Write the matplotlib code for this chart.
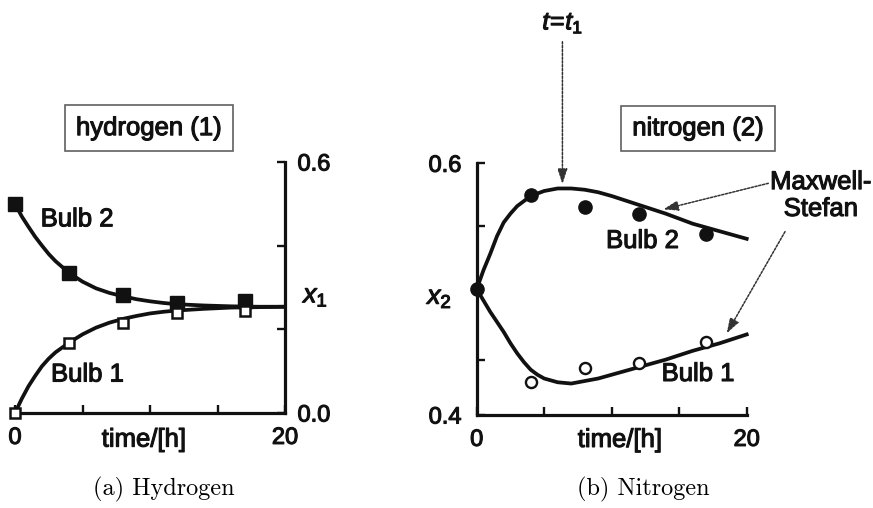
import matplotlib
matplotlib.use("Agg")
import matplotlib.pyplot as plt
import matplotlib.patheffects as pe

h_t_pts = [0, 4, 8, 12, 17]
h_bulb2_pts = [0.499, 0.335, 0.281, 0.262, 0.267]
h_bulb1_pts = [0.0, 0.168, 0.214, 0.240, 0.244]

h_t_line = [0, 0.5, 1, 1.5, 2, 2.5, 3, 4, 5, 6, 7, 8, 9, 10, 11, 12, 14, 16, 18, 20]
h_bulb2_line = [0.500, 0.470, 0.445, 0.421, 0.400, 0.380, 0.363, 0.335, 0.314, 0.298,
                0.287, 0.279, 0.272, 0.267, 0.263, 0.260, 0.257, 0.255, 0.254, 0.254]
h_bulb1_line = [0.000, 0.034, 0.064, 0.089, 0.112, 0.130, 0.145, 0.168, 0.188, 0.204,
                0.216, 0.225, 0.232, 0.238, 0.242, 0.245, 0.249, 0.252, 0.253, 0.254]

# ---- nitrogen (2)
n_t_pts = [0, 4, 8, 12, 17]
n_bulb2_pts = [0.500, 0.575, 0.565, 0.560, 0.544]
n_t_open = [4, 8, 12, 17]
n_bulb1_pts = [0.4265, 0.437, 0.4416, 0.458]

n_t_line = [0, 0.5, 1, 1.5, 2, 2.5, 3, 3.5, 4, 4.5, 5, 6, 7, 8, 9, 10, 12, 14, 16, 18, 20]
n_bulb2_line = [0.500, 0.515, 0.528, 0.542, 0.553, 0.560, 0.566, 0.570, 0.574, 0.576,
                0.578, 0.580, 0.580, 0.579, 0.577, 0.574, 0.567, 0.560, 0.552, 0.546, 0.540]
n_bulb1_line = [0.500, 0.491, 0.482, 0.474, 0.466, 0.457, 0.449, 0.442, 0.436, 0.432,
                0.429, 0.426, 0.425, 0.427, 0.429, 0.432, 0.438, 0.444, 0.451, 0.457, 0.464]

x_ticks = [0, 5, 10, 15, 20]
x_ticklabels = ["0", "", "", "", "20"]
h_yticks = [0.0, 0.2, 0.4, 0.6]
h_yticklabels = ["0.0", "", "", "0.6"]
n_yticks = [0.4, 0.444, 0.55, 0.6]
n_yticklabels = ["0.4", "", "", "0.6"]

plt.rcParams.update({
    "font.family": "Liberation Sans",
    "mathtext.fontset": "custom",
    "mathtext.rm": "Liberation Sans",
    "mathtext.it": "Liberation Sans:italic",
    "mathtext.bf": "Liberation Sans:bold",
})

INK = "#111111"
FS = 18.5
LW = 2.7
heavy = [pe.withStroke(linewidth=0.8, foreground=INK)]
TXT = dict(color=INK, ha="center", va="center", path_effects=heavy)

fig = plt.figure(figsize=(8.73, 5.08), dpi=100)
ax1 = fig.add_axes([15/873, 95/508, 270/873, 251/508])
ax2 = fig.add_axes([476.7/873, 93/508, 270/873, 251.7/508])

box = dict(boxstyle="square,pad=0.42", fc="white", ec="#606060", lw=1.2)


def style(ax, side):
    for s in ax.spines.values():
        s.set_visible(False)
    for s in ("bottom", side):
        ax.spines[s].set_visible(True)
        ax.spines[s].set_linewidth(2.3)
        ax.spines[s].set_color(INK)
    ax.set_xlim(0, 20)
    ax.set_xticks(x_ticks)
    ax.set_xticklabels(x_ticklabels)
    ax.tick_params(axis="both", direction="in", length=6, width=1.7,
                   colors=INK, labelsize=17)
    ax.tick_params(axis="x", pad=10)


# ---------------- hydrogen
style(ax1, "right")
ax1.set_ylim(0, 0.6)
ax1.yaxis.tick_right()
ax1.set_yticks(h_yticks)
ax1.set_yticklabels(h_yticklabels)
ax1.tick_params(axis="y", pad=9)

ax1.plot(h_t_line, h_bulb2_line, color=INK, lw=LW, clip_on=False, zorder=3)
ax1.plot(h_t_line, h_bulb1_line, color=INK, lw=LW, clip_on=False, zorder=3)
ax1.plot(h_t_pts, h_bulb2_pts, "s", ms=9.5, color=INK, clip_on=False, zorder=4)
ax1.plot(h_t_pts, h_bulb1_pts, "s", ms=7.5, mfc="white", mec=INK, mew=1.8,
         clip_on=False, zorder=4)

ax1.text(9.93, 0.681, "hydrogen (1)", fontsize=FS, bbox=box, clip_on=False, **TXT)
ax1.text(4.6, 0.463, "Bulb 2", fontsize=FS, **TXT)
ax1.text(5.37, 0.092, "Bulb 1", fontsize=FS, **TXT)
ax1.text(1.115, 0.464, r"$x_1$", transform=ax1.transAxes, fontsize=19, **TXT)
ax1.text(0.478, -0.106, "time/[h]", transform=ax1.transAxes, fontsize=FS, **TXT)

# ---------------- nitrogen
style(ax2, "left")
ax2.set_ylim(0.4, 0.6)
ax2.set_yticks(n_yticks)
ax2.set_yticklabels(n_yticklabels)
ax2.tick_params(axis="y", pad=11)

ax2.plot(n_t_line, n_bulb2_line, color=INK, lw=LW, clip_on=False, zorder=3)
ax2.plot(n_t_line, n_bulb1_line, color=INK, lw=LW, clip_on=False, zorder=3)
ax2.plot(n_t_pts, n_bulb2_pts, "o", ms=9.5, color=INK, clip_on=False, zorder=4)
ax2.plot(n_t_open, n_bulb1_pts, "o", ms=8, mfc="white", mec=INK, mew=1.7,
         clip_on=False, zorder=4)

ax2.text(16.4, 0.6278, "nitrogen (2)", fontsize=FS, bbox=box, clip_on=False, **TXT)
ax2.text(12.28, 0.5383, "Bulb 2", fontsize=FS, **TXT)
ax2.text(16.4, 0.4326, "Bulb 1", fontsize=FS, **TXT)
ax2.text(-0.136, 0.465, r"$x_2$", transform=ax2.transAxes, fontsize=19, **TXT)
ax2.text(0.531, -0.099, "time/[h]", transform=ax2.transAxes, fontsize=FS, **TXT)

arrow = dict(arrowstyle="-|>,head_length=0.9,head_width=0.3", color="#333333",
             lw=1.1, linestyle=(0, (1.5, 1)), shrinkA=0, shrinkB=0)
ax2.annotate("", xy=(6.35, 0.5836), xytext=(6.35, 0.6966),
             arrowprops=arrow, annotation_clip=False)
ax2.text(6.37, 0.7115, r"$t\!=\!t_1$", fontsize=18, clip_on=False, **TXT)
ax2.annotate("", xy=(13.82, 0.5634), xytext=(21.6, 0.5841),
             arrowprops=arrow, annotation_clip=False)
ax2.annotate("", xy=(18.52, 0.4649), xytext=(22.84, 0.5457),
             arrowprops=arrow, annotation_clip=False)
ax2.text(25.5, 0.5744, "Maxwell-\nStefan", fontsize=FS, clip_on=False,
         linespacing=1.15, **TXT)

for ax in (ax1, ax2):
    for lab in ax.get_xticklabels() + ax.get_yticklabels():
        lab.set_path_effects(heavy)

# captions
fig.text(164/873, 1 - 489/508, "(a) Hydrogen", family="cmr10", fontsize=17.5,
         ha="center", va="center")
fig.text(643/873, 1 - 489/508, "(b) Nitrogen", family="cmr10", fontsize=17.5,
         ha="center", va="center")

fig.savefig("out.png", dpi=100)
